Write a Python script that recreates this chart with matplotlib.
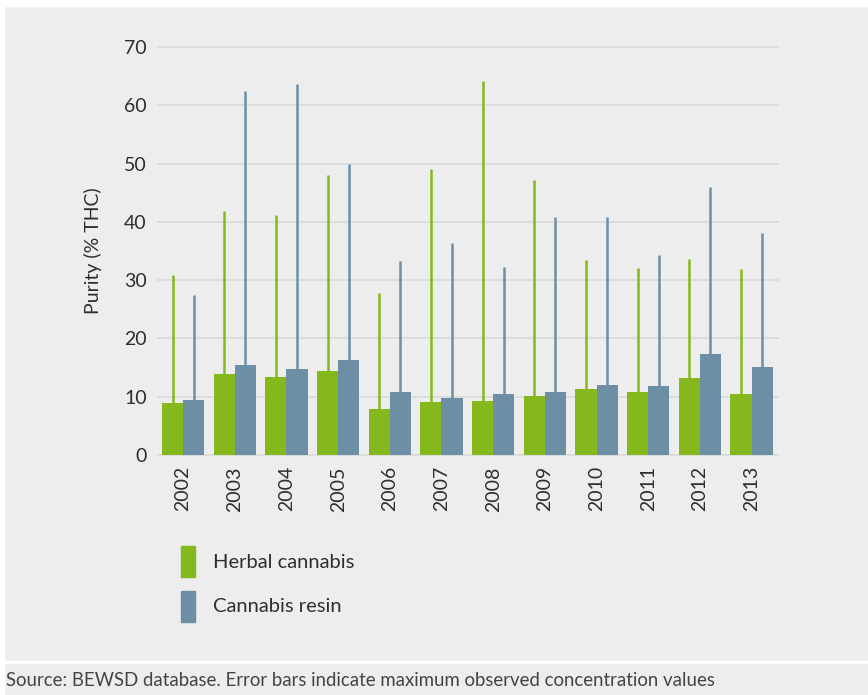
import matplotlib.pyplot as plt
import matplotlib.patches as mpatches
import numpy as np

plt.rcParams['font.family'] = ['Lato', 'DejaVu Sans']

years = ['2002', '2003', '2004', '2005', '2006', '2007',
         '2008', '2009', '2010', '2011', '2012', '2013']
herbal = [8.9, 13.9, 13.4, 14.4, 7.9, 9.1, 9.3, 10.1, 11.3, 10.8, 13.2, 10.5]
resin = [9.4, 15.4, 14.8, 16.3, 10.8, 9.8, 10.5, 10.8, 12.0, 11.8, 17.3, 15.1]
herbal_max = [30.9, 41.9, 41.2, 48.0, 27.8, 49.0, 64.1, 47.1, 33.4, 32.0, 33.7, 31.9]
resin_max = [27.5, 62.4, 63.6, 50.0, 33.3, 36.4, 32.2, 40.8, 40.8, 34.3, 45.9, 38.1]

green = '#84B81C'
blue = '#6C8FA6'
bg = '#ECEDEC'
txt = '#2E2E2E'

fig = plt.figure(figsize=(8.68, 6.95), dpi=100, facecolor=bg)
ax = fig.add_axes([0.182, 0.3453, 0.714, 0.5871])
ax.set_facecolor(bg)

x = np.arange(len(years))
w = 0.41
ax.bar(x - w / 2, herbal, width=w, color=green, zorder=2)
ax.bar(x + w / 2, resin, width=w, color=blue, zorder=2)
ax.vlines(x - w / 2, 0, herbal_max, color=green, linewidth=1.8, zorder=3)
ax.vlines(x + w / 2, 0, resin_max, color=blue, linewidth=1.8, zorder=3)

ax.set_xlim(-0.487, 11.507)
ax.set_ylim(0, 70)
ax.set_yticks(range(0, 71, 10))
ax.yaxis.grid(True, color='#DADBDB', linewidth=1.3, zorder=0)
for sp in ax.spines.values():
    sp.set_visible(False)
ax.tick_params(length=0, labelsize=14, colors=txt, pad=8)
ax.tick_params(axis='x', pad=8)
ax.set_xticks(x)
ax.set_xticklabels(years, rotation=90, fontsize=14)
for gl in ax.get_ygridlines():
    gl.set_clip_on(False)
ax.set_ylabel('Purity (% THC)', fontsize=14, color=txt, labelpad=16)

# legend
fig.patches.append(mpatches.Rectangle((181 / 868, 1 - 577 / 695), 14 / 868, 31 / 695,
                                      transform=fig.transFigure, color=green))
fig.patches.append(mpatches.Rectangle((181 / 868, 1 - 622 / 695), 14 / 868, 31 / 695,
                                      transform=fig.transFigure, color=blue))
fig.text(213 / 868, 1 - 562 / 695, 'Herbal cannabis', fontsize=14.5, color=txt, va='center')
fig.text(213 / 868, 1 - 607 / 695, 'Cannabis resin', fontsize=14.5, color=txt, va='center')

# frame strips
fig.patches.append(mpatches.Rectangle((0, 1 - 6 / 695), 1, 6 / 695,
                                      transform=fig.transFigure, color='white'))
fig.patches.append(mpatches.Rectangle((0, 0), 4 / 868, 1,
                                      transform=fig.transFigure, color='white'))
fig.patches.append(mpatches.Rectangle((0, 1 - 663 / 695), 1, 2 / 695,
                                      transform=fig.transFigure, color='white'))

fig.text(6 / 868, 1 - 681 / 695,
         'Source: BEWSD database. Error bars indicate maximum observed concentration values',
         fontsize=13.4, color='#444444', va='center')

fig.savefig('out.png', dpi=100, facecolor=bg)
